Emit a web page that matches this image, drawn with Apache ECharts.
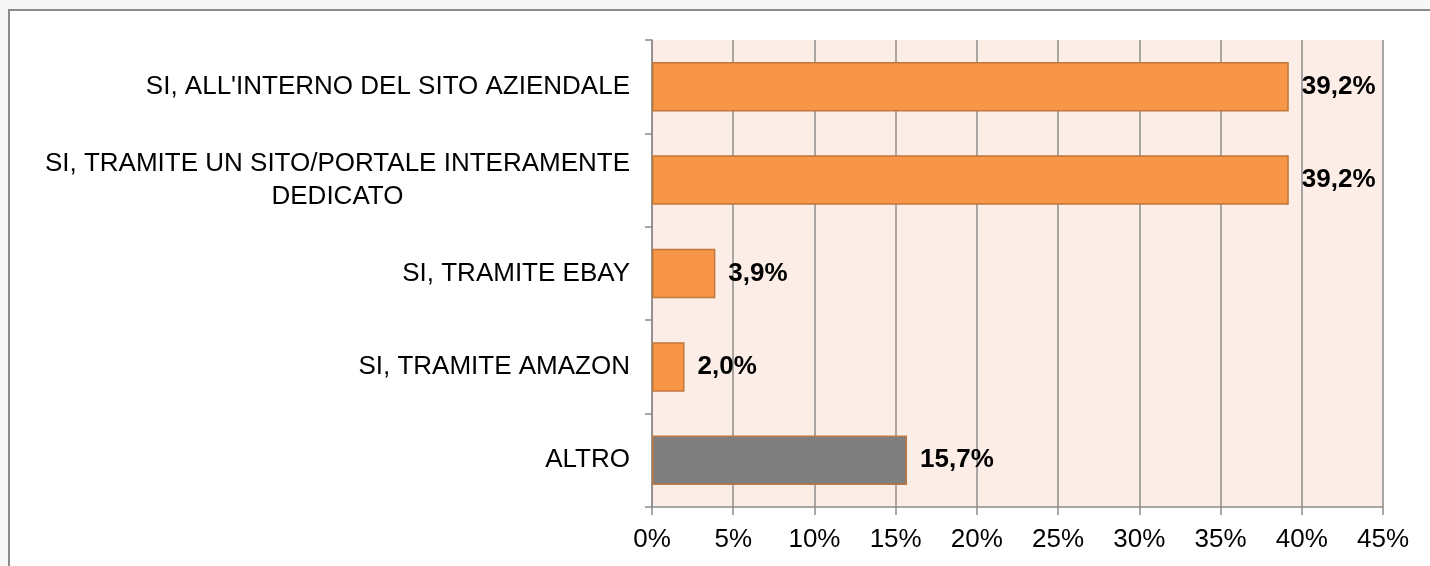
<!DOCTYPE html>
<html>
<head>
<meta charset="utf-8">
<script src="https://cdn.jsdelivr.net/npm/echarts@6/dist/echarts.min.js"></script>
<style>
  html, body { margin: 0; padding: 0; background: #f7f7f7; overflow: hidden; }
  #frame {
    position: absolute; left: 8px; top: 9px; width: 1440px; height: 600px;
    border: 2px solid #8a8a8a; background: #fff;
  }
  #chart { position: absolute; left: 0; top: 0; width: 1430px; height: 566px; }
</style>
</head>
<body>
<div id="frame"></div>
<div id="chart"></div>
<script>
// categorie (dall'alto in basso)
const categories = [
  "SI, ALL'INTERNO DEL SITO AZIENDALE",
  'SI, TRAMITE UN SITO/PORTALE INTERAMENTE\nDEDICATO',
  'SI, TRAMITE EBAY',
  'SI, TRAMITE AMAZON',
  'ALTRO',
];
// percentuali
const values = [39.2, 39.2, 3.9, 2.0, 15.7];
// asse x
const xMax = 45;
const xStep = 5;

const FONT = "'Liberation Sans', Arial, sans-serif";
const chart = echarts.init(document.getElementById('chart'));

const option = {
  animation: false,
  grid: {
    left: 652,
    right: 47,
    top: 40,
    bottom: 59,
    show: true,
    backgroundColor: '#fcede7',
    borderWidth: 0,
  },
  xAxis: {
    type: 'value',
    min: 0,
    max: xMax,
    interval: xStep,
    axisLine: { show: true, lineStyle: { color: '#8c8c8c', width: 1.5 } },
    axisTick: { show: true, length: 8, lineStyle: { color: '#8c8c8c', width: 1.5 } },
    splitLine: { show: true, lineStyle: { color: '#8c8c8c', width: 1.5 } },
    axisLabel: {
      formatter: '{value}%',
      margin: 20,
      fontSize: 26,
      color: '#000',
      fontFamily: FONT,
    },
  },
  yAxis: {
    type: 'category',
    inverse: true,
    data: categories,
    axisLine: { show: true, lineStyle: { color: '#8c8c8c', width: 1.5 } },
    axisTick: { show: true, length: 7, lineStyle: { color: '#8c8c8c', width: 1.5 } },
    axisLabel: {
      margin: 22,
      formatter: (v) => v.split('\n').map((s) => '{c|' + s + '}').join('\n'),
      rich: {
        c: {
          align: 'center',
          fontSize: 26,
          lineHeight: 33,
          color: '#000',
          fontFamily: FONT,
        },
      },
    },
  },
  series: [
    {
      type: 'bar',
      barWidth: '53%',
      data: values.map((v, i) => ({
        value: v,
        itemStyle: categories[i] === 'ALTRO' ? { color: '#7f7f7f' } : undefined,
      })),
      itemStyle: {
        color: '#f79646',
        borderColor: '#c0773b',
        borderWidth: 1.5,
      },
      label: {
        show: true,
        position: 'right',
        distance: 13,
        fontSize: 26,
        fontWeight: 'bold',
        color: '#000',
        fontFamily: FONT,
        formatter: (p) => p.value.toFixed(1).replace('.', ',') + '%',
      },
    },
  ],
};

chart.setOption(option);
</script>
</body>
</html>
